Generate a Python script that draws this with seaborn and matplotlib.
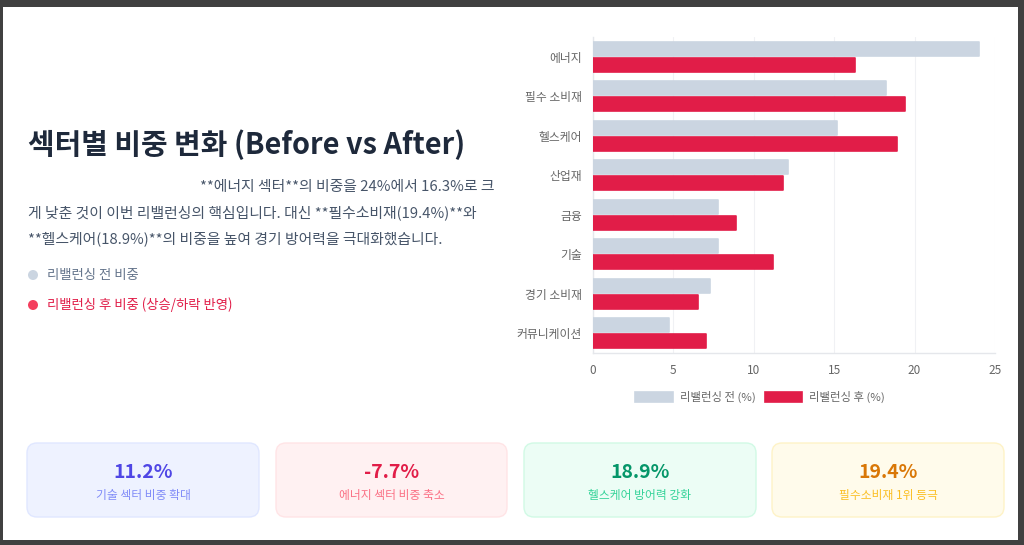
import matplotlib
matplotlib.use("Agg")
import matplotlib.pyplot as plt
from matplotlib.patches import FancyBboxPatch, Rectangle, Circle
import seaborn as sns
import pandas as pd

# ---- data ----
categories = ["에너지", "필수 소비재", "헬스케어", "산업재", "금융", "기술", "경기 소비재", "커뮤니케이션"]
before_vals = [24.0, 18.2, 15.2, 12.1, 7.8, 7.8, 7.3, 4.7]
after_vals = [16.3, 19.4, 18.9, 11.8, 8.9, 11.2, 6.5, 7.0]
series_names = ["리밸런싱 전 (%)", "리밸런싱 후 (%)"]
x_ticks = [0, 5, 10, 15, 20, 25]

title_text = "섹터별 비중 변화 (Before vs After)"
para_lines = [
    "**에너지 섹터**의 비중을 24%에서 16.3%로 크",
    "게 낮춘 것이 이번 리밸런싱의 핵심입니다. 대신 **필수소비재(19.4%)**와",
    "**헬스케어(18.9%)**의 비중을 높여 경기 방어력을 극대화했습니다.",
]
legend_left = ["리밸런싱 전 비중", "리밸런싱 후 비중 (상승/하락 반영)"]
card_values = ["11.2%", "-7.7%", "18.9%", "19.4%"]
card_labels = ["기술 섹터 비중 확대", "에너지 섹터 비중 축소", "헬스케어 방어력 강화", "필수소비재 1위 등극"]

# ---- style ----
sns.set_theme(style="white")
plt.rcParams["font.family"] = ["Noto Sans CJK KR", "DejaVu Sans"]

W, H = 1024, 545
fig = plt.figure(figsize=(W / 100, H / 100), dpi=100)
fig.patch.set_facecolor("#404040")

def px(x, y):
    return x / W, 1 - y / H

# white page
fig.patches.append(Rectangle((3, H - 540), 1018 - 3, 540 - 7,
                             transform=None, facecolor="white", edgecolor="none", zorder=-5))

# ---- bar chart ----
ax_l, ax_r, ax_t, ax_b = 593, 995, 37, 353
ax = fig.add_axes([ax_l / W, 1 - ax_b / H, (ax_r - ax_l) / W, (ax_b - ax_t) / H])
ax.set_zorder(2)
ax.set_facecolor("white")

df = pd.DataFrame({
    "sector": categories * 2,
    "value": before_vals + after_vals,
    "series": [series_names[0]] * len(categories) + [series_names[1]] * len(categories),
})
sns.barplot(data=df, y="sector", x="value", hue="series", orient="h",
            palette=["#CBD5E1", "#E11D48"], saturation=1, width=0.81, gap=0.15,
            ax=ax, zorder=3)
# slightly rounded bar corners
for p in ax.patches:
    p.set_edgecolor(p.get_facecolor())
    p.set_linewidth(1.2)
    p.set_joinstyle("round")

ax.set_xlim(0, 25)
ax.set_xticks(x_ticks)
ax.set_xlabel("")
ax.set_ylabel("")
ax.set_axisbelow(True)
ax.grid(axis="x", color="#F0F1F4", linewidth=0.8)
ax.grid(axis="y", visible=False)
for s in ["top", "right"]:
    ax.spines[s].set_visible(False)
for s in ["left", "bottom"]:
    ax.spines[s].set_color("#E5E7EB")
    ax.spines[s].set_linewidth(1.0)
ax.tick_params(axis="both", length=0, labelsize=8.5, labelcolor="#666666", pad=8)
ax.tick_params(axis="x", pad=8)

ax.get_legend().remove()
handles, labels = ax.get_legend_handles_labels()
leg = fig.legend(handles, labels, loc="center", bbox_to_anchor=px(760, 397), ncol=2,
                 frameon=False, fontsize=8.2, handlelength=3.3, handleheight=1.0,
                 columnspacing=0.8, handletextpad=0.6)
for t in leg.get_texts():
    t.set_color("#666666")

# ---- left text ----
fig.text(*px(28, 145), title_text, fontsize=20.8, fontweight="bold", color="#1E293B",
         ha="left", va="center")
para_pos = [(200, 187), (28, 213), (28, 239)]
for (x, y), line in zip(para_pos, para_lines):
    fig.text(*px(x, y), line, fontsize=10.7, color="#475569", ha="left", va="center")

leg_cols = [("#CBD5E1", "#64748B"), ("#F43F5E", "#E11D48")]
for (y, label, (dotc, txtc)) in zip([275, 305], legend_left, leg_cols):
    fig.patches.append(Circle((33, H - y), radius=5, transform=None,
                              facecolor=dotc, edgecolor="none"))
    fig.text(*px(47, y), label, fontsize=9.6, fontweight="medium", color=txtc,
             ha="left", va="center")

# ---- cards ----
card_x = [(27, 259), (276, 507), (524, 756), (772, 1004)]
card_bg = ["#EEF2FF", "#FFF1F2", "#ECFDF5", "#FFFBEB"]
card_border = ["#E0E7FF", "#FFE4E6", "#D1FAE5", "#FEF3C7"]
card_valc = ["#4F46E5", "#E11D48", "#059669", "#D97706"]
card_labc = ["#818CF8", "#FB7185", "#34D399", "#FBBF24"]
cy0, cy1 = 443, 517
for (x0, x1), bg, bd, vc, lc, val, lab in zip(card_x, card_bg, card_border, card_valc,
                                              card_labc, card_values, card_labels):
    box = FancyBboxPatch((x0, H - cy1), x1 - x0, cy1 - cy0,
                         boxstyle="round,pad=0,rounding_size=10",
                         transform=None, facecolor=bg, edgecolor=bd, linewidth=1.0)
    fig.patches.append(box)
    cx = (x0 + x1) / 2
    fig.text(*px(cx, 473), val, fontsize=14, fontweight="bold", color=vc, ha="center", va="center")
    fig.text(*px(cx, 495), lab, fontsize=8.5, color=lc, ha="center", va="center")

fig.savefig("out.png", dpi=100, facecolor=fig.get_facecolor())
